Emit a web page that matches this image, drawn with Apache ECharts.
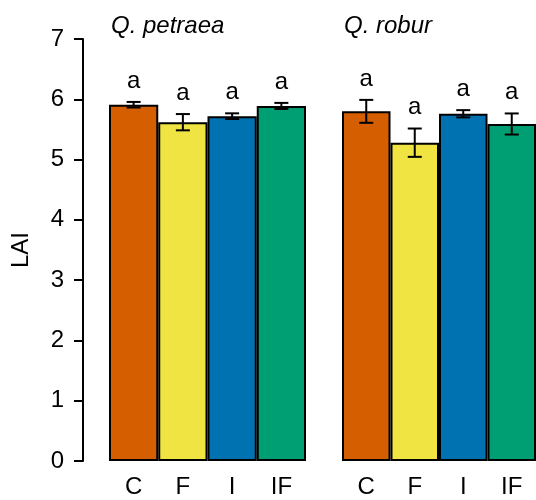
<!DOCTYPE html>
<html>
<head>
<meta charset="utf-8">
<script src="https://cdn.jsdelivr.net/npm/echarts@6/dist/echarts.min.js"></script>
<style>
html,body{margin:0;padding:0;background:#fff;}
#chart{width:536px;height:500px;}
</style>
</head>
<body>
<div id="chart"></div>
<script>
// ---- data ----
const categories = ['C', 'F', 'I', 'IF'];
const panelTitles = ['Q. petraea', 'Q. robur'];
const petraeaMean = [5.91, 5.62, 5.72, 5.89];
const petraeaSE = [0.046, 0.135, 0.047, 0.05];
const petraeaLetters = ['a', 'a', 'a', 'a'];
const roburMean = [5.80, 5.28, 5.76, 5.59];
const roburSE = [0.19, 0.235, 0.06, 0.175];
const roburLetters = ['a', 'a', 'a', 'a'];
const yTicks = [0, 1, 2, 3, 4, 5, 6, 7];

// ---- style ----
const colors = ['#D55E00', '#F0E442', '#0072B2', '#009E73'];
const FONT = 'Liberation Sans, Arial, sans-serif';

const chart = echarts.init(document.getElementById('chart'), null, {renderer: 'canvas'});

function barSeries(means, gi) {
  return {
    type: 'bar',
    xAxisIndex: gi, yAxisIndex: gi,
    barCategoryGap: 0,
    barWidth: '100%',
    silent: true,
    data: means.map((v, i) => ({value: v, itemStyle: {color: colors[i]}})),
    itemStyle: {borderColor: '#000', borderWidth: 2},
    z: 2
  };
}

function errSeries(means, ses, letters, gi) {
  return {
    type: 'custom',
    xAxisIndex: gi, yAxisIndex: gi,
    silent: true,
    z: 5,
    data: means.map((m, i) => [i, m, ses[i]]),
    renderItem: function (params, api) {
      const x = api.value(0), m = api.value(1), se = api.value(2);
      const top = api.coord([x, m + se]);
      const bot = api.coord([x, m - se]);
      const hw = 7;
      const st = {stroke: '#000', lineWidth: 2};
      return {
        type: 'group',
        children: [
          {type: 'line', shape: {x1: top[0], y1: top[1], x2: bot[0], y2: bot[1]}, style: st},
          {type: 'line', shape: {x1: top[0] - hw, y1: top[1], x2: top[0] + hw, y2: top[1]}, style: st},
          {type: 'line', shape: {x1: bot[0] - hw, y1: bot[1], x2: bot[0] + hw, y2: bot[1]}, style: st},
          {type: 'text', x: top[0], y: top[1] - 21,
           style: {text: letters[params.dataIndex], fill: '#000', font: '24px ' + FONT,
                   align: 'center', verticalAlign: 'middle'}}
        ]
      };
    }
  };
}

const xAxisCommon = {
  type: 'category',
  data: categories,
  axisLine: {show: false},
  axisTick: {show: false},
  axisLabel: {color: '#000', fontSize: 24, fontFamily: FONT, margin: 14}
};

const option = {
  animation: false,
  backgroundColor: '#fff',
  title: [
    {text: panelTitles[0], left: 111, top: 14, padding: 0,
     textStyle: {fontSize: 24, fontStyle: 'italic', fontWeight: 'normal', color: '#000', fontFamily: FONT}},
    {text: panelTitles[1], left: 344, top: 14, padding: 0,
     textStyle: {fontSize: 24, fontStyle: 'italic', fontWeight: 'normal', color: '#000', fontFamily: FONT}}
  ],
  grid: [
    {left: 109, width: 197, top: 39, height: 422},
    {left: 342, width: 197, top: 39, height: 422}
  ],
  xAxis: [
    Object.assign({gridIndex: 0}, xAxisCommon),
    Object.assign({gridIndex: 1}, xAxisCommon)
  ],
  yAxis: [
    {
      gridIndex: 0, type: 'value', min: yTicks[0], max: yTicks[yTicks.length - 1], interval: 1,
      offset: 26,
      name: 'LAI', nameLocation: 'middle', nameGap: 50,
      nameTextStyle: {fontSize: 24, color: '#000', fontFamily: FONT},
      axisLine: {show: true, lineStyle: {color: '#000', width: 2}},
      axisTick: {show: true, length: 9, lineStyle: {color: '#000', width: 2}},
      axisLabel: {color: '#000', fontSize: 24, fontFamily: FONT, margin: 19},
      splitLine: {show: false}
    },
    {
      gridIndex: 1, type: 'value', min: yTicks[0], max: yTicks[yTicks.length - 1], interval: 1,
      show: false, splitLine: {show: false}
    }
  ],
  series: [
    barSeries(petraeaMean, 0),
    errSeries(petraeaMean, petraeaSE, petraeaLetters, 0),
    barSeries(roburMean, 1),
    errSeries(roburMean, roburSE, roburLetters, 1)
  ]
};

chart.setOption(option);
</script>
</body>
</html>
